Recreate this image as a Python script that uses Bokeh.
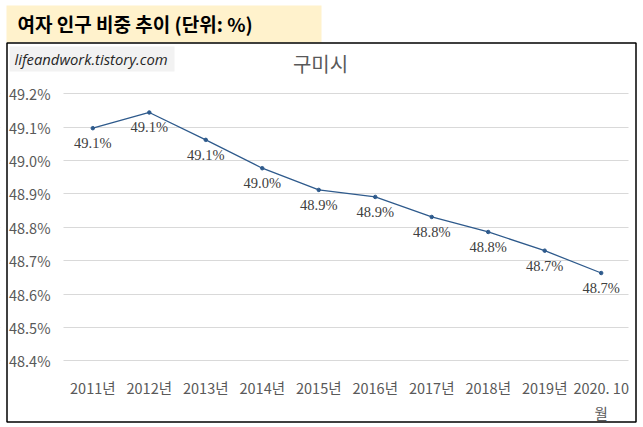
from bokeh.plotting import figure
from bokeh.models import (ColumnDataSource, LabelSet, Label, BoxAnnotation, FixedTicker,
                          PrintfTickFormatter, Range1d)
from bokeh.embed import file_html
from bokeh.resources import INLINE

categories = ["2011년", "2012년", "2013년", "2014년", "2015년", "2016년",
              "2017년", "2018년", "2019년", "2020. 10\n월"]
values = [49.097, 49.144, 49.062, 48.977, 48.912, 48.891, 48.831, 48.786, 48.730, 48.663]
yticks = [48.4, 48.5, 48.6, 48.7, 48.8, 48.9, 49.0, 49.1, 49.2]
header_text = "여자 인구 비중 추이 (단위: %)"
chart_title = "구미시"
watermark = "lifeandwork.tistory.com"

FONT = "Noto Sans CJK KR"
W, H = 643, 427

xs = list(range(len(categories)))
src = ColumnDataSource(dict(x=xs, y=values, lab=[f"{v:.1f}%" for v in values]))

# the frame fills the whole canvas; ranges chosen so the plot area sits where it should
p = figure(width=W, height=H, x_range=Range1d(-1.634, 9.749), y_range=Range1d(48.2001, 49.4796),
           output_backend="svg", toolbar_location=None,
           min_border_left=0, min_border_right=0, min_border_top=0, min_border_bottom=0)
p.outline_line_color = None
p.background_fill_color = "white"
p.border_fill_color = "white"

for ax in (p.xaxis, p.yaxis):
    ax.axis_line_color = None
    ax.major_tick_line_color = None
    ax.minor_tick_line_color = None
    ax.major_tick_out = 0
    ax.major_tick_in = 0
    ax.major_label_text_color = "#595959"
    ax.major_label_text_font = FONT
    ax.major_label_text_font_size = "14.5px"
p.yaxis.ticker = FixedTicker(ticks=yticks)
p.yaxis.formatter = PrintfTickFormatter(format="%.1f%%")
p.yaxis.major_label_standoff = -50
p.xaxis.ticker = FixedTicker(ticks=xs)
p.xaxis.major_label_overrides = {i: c for i, c in zip(xs, categories)}
p.xaxis.major_label_standoff = -51

p.xgrid.visible = False
p.ygrid.ticker = FixedTicker(ticks=yticks)
p.ygrid.grid_line_color = "#D9D9D9"
p.ygrid.grid_line_width = 1


def sx(cx):
    return cx


def sy(cy):
    return H - cy


def box(l, t, r, b, **kw):
    return BoxAnnotation(left=sx(l), right=sx(r), top=sy(t), bottom=sy(b),
                         left_units="screen", right_units="screen",
                         top_units="screen", bottom_units="screen", **kw)


def label(cx, cy, text, **kw):
    return Label(x=sx(cx), y=sy(cy), x_units="screen", y_units="screen", text=text,
                 text_baseline="middle", **kw)


# keep the gridlines inside the plot area
p.add_layout(box(0, 80, 63, 370, fill_color="white", fill_alpha=1, line_color=None, level="underlay"))
p.add_layout(box(628, 80, 643, 370, fill_color="white", fill_alpha=1, line_color=None, level="underlay"))

p.line("x", "y", source=src, line_color="#2E5A8C", line_width=1.3)
p.scatter("x", "y", source=src, size=3.5, fill_color="#2E5A8C", line_color="#2E5A8C")

# boxes first (same level as the labels, drawn before them)
p.add_layout(box(6, 5, 321, 42, fill_color="#FFF2CC", fill_alpha=1, line_color=None,
                 level="annotation"))
p.add_layout(box(6.5, 42.5, 635.5, 421.5, fill_alpha=0, line_color="#000000", line_alpha=1,
                 line_width=1.5, level="annotation"))
p.add_layout(box(9, 46, 174, 71, fill_color="#F2F2F2", fill_alpha=1, line_color=None,
                 level="annotation"))

p.add_layout(LabelSet(x="x", y="y", text="lab", source=src, y_offset=-15,
                      text_align="center", text_baseline="middle",
                      text_font=FONT, text_font_size="14.5px", text_color="#404040"))

p.add_layout(label(17, 23, header_text, text_font=FONT, text_font_size="19px",
                   text_font_style="bold", text_color="#000000", text_align="left"))
p.add_layout(label(14, 58, watermark, text_font="Open Sans", text_font_size="14.8px",
                   text_font_style="italic", text_color="#262626", text_align="left"))
p.add_layout(label(320, 63, chart_title, text_font=FONT, text_font_size="20px",
                   text_color="#595959", text_align="center"))

open("out.html", "w").write(file_html(p, INLINE))
